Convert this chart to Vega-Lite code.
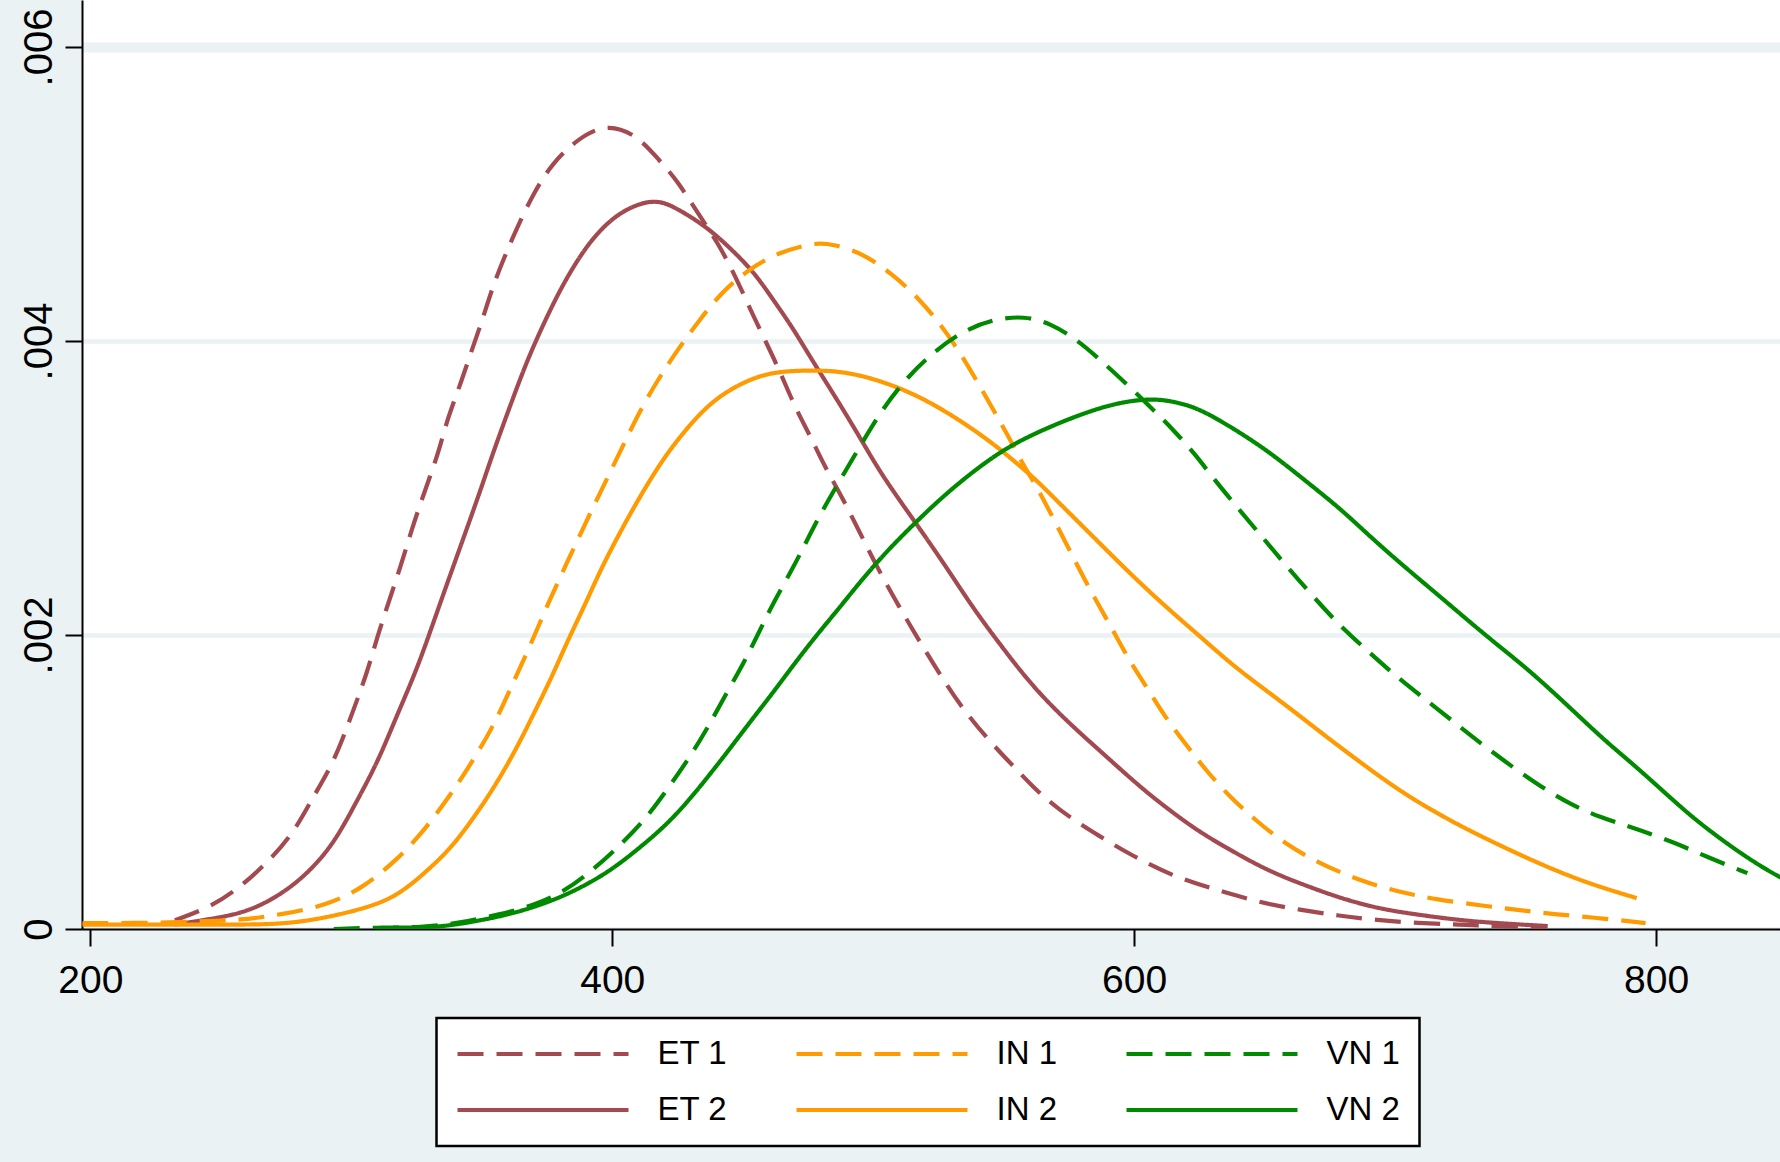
{
"$schema": "https://vega.github.io/schema/vega-lite/v6.json",
"width": 1698, "height": 929,
"autosize": {"type": "none"},
"padding": {"left": 82, "top": 0, "right": 0, "bottom": 233},
"background": "#EAF2F3",
"view": {"fill": "white", "stroke": null},
"config": {"font": "Liberation Sans", "legend": {"strokeWidth": 2.5}},
"data": {"values": [
{"s":"ET 1","x":232.4,"y":0.00006},{"s":"ET 1","x":245,"y":0.00014},{"s":"ET 1","x":256.5,"y":0.00027},{"s":"ET 1","x":267.8,"y":0.00045},{"s":"ET 1","x":277.8,"y":0.00065},{"s":"ET 1","x":284.7,"y":0.00088},{"s":"ET 1","x":293.3,"y":0.00113},{"s":"ET 1","x":300.4,"y":0.00147},{"s":"ET 1","x":306,"y":0.00174},{"s":"ET 1","x":310,"y":0.00199},{"s":"ET 1","x":314.6,"y":0.00224},{"s":"ET 1","x":318.8,"y":0.00246},{"s":"ET 1","x":323,"y":0.00271},{"s":"ET 1","x":327,"y":0.00292},{"s":"ET 1","x":330,"y":0.00307},{"s":"ET 1","x":333.7,"y":0.00326},{"s":"ET 1","x":337,"y":0.00348},{"s":"ET 1","x":341.5,"y":0.00369},{"s":"ET 1","x":345.8,"y":0.00392},{"s":"ET 1","x":350,"y":0.00413},{"s":"ET 1","x":354,"y":0.00436},{"s":"ET 1","x":358.6,"y":0.00457},{"s":"ET 1","x":364,"y":0.00479},{"s":"ET 1","x":370,"y":0.00501},{"s":"ET 1","x":377,"y":0.00521},{"s":"ET 1","x":387,"y":0.00538},{"s":"ET 1","x":398,"y":0.00548},{"s":"ET 1","x":409.6,"y":0.0054},{"s":"ET 1","x":418,"y":0.00523},{"s":"ET 1","x":425,"y":0.00509},{"s":"ET 1","x":432,"y":0.00489},{"s":"ET 1","x":440.5,"y":0.00467},{"s":"ET 1","x":447.5,"y":0.00443},{"s":"ET 1","x":453,"y":0.00421},{"s":"ET 1","x":459,"y":0.00399},{"s":"ET 1","x":464.6,"y":0.00378},{"s":"ET 1","x":470,"y":0.00355},{"s":"ET 1","x":476,"y":0.00335},{"s":"ET 1","x":481.6,"y":0.00314},{"s":"ET 1","x":486.5,"y":0.00299},{"s":"ET 1","x":494,"y":0.00273},{"s":"ET 1","x":501.5,"y":0.00246},{"s":"ET 1","x":510,"y":0.00219},{"s":"ET 1","x":518,"y":0.00195},{"s":"ET 1","x":527,"y":0.00169},{"s":"ET 1","x":535.5,"y":0.00147},{"s":"ET 1","x":544,"y":0.00129},{"s":"ET 1","x":552.5,"y":0.00113},{"s":"ET 1","x":561,"y":0.00097},{"s":"ET 1","x":571,"y":0.00081},{"s":"ET 1","x":585,"y":0.00065},{"s":"ET 1","x":599,"y":0.0005},{"s":"ET 1","x":616,"y":0.00035},{"s":"ET 1","x":631,"y":0.00027},{"s":"ET 1","x":648,"y":0.00018},{"s":"ET 1","x":663.6,"y":0.00013},{"s":"ET 1","x":678.5,"y":0.00009},{"s":"ET 1","x":693,"y":0.00006},{"s":"ET 1","x":709,"y":0.00004},{"s":"ET 1","x":724.5,"y":0.00003},{"s":"ET 1","x":738.7,"y":0.00002},{"s":"ET 1","x":758,"y":0.00001},
{"s":"ET 2","x":232.4,"y":0.00003},{"s":"ET 2","x":250.8,"y":0.00008},{"s":"ET 2","x":262,"y":0.00013},{"s":"ET 2","x":273.5,"y":0.00024},{"s":"ET 2","x":283.4,"y":0.00038},{"s":"ET 2","x":293.3,"y":0.00058},{"s":"ET 2","x":301.8,"y":0.00086},{"s":"ET 2","x":310,"y":0.00113},{"s":"ET 2","x":317.4,"y":0.00145},{"s":"ET 2","x":324.5,"y":0.00174},{"s":"ET 2","x":330,"y":0.00201},{"s":"ET 2","x":335.9,"y":0.00231},{"s":"ET 2","x":343,"y":0.00266},{"s":"ET 2","x":350,"y":0.00301},{"s":"ET 2","x":354.3,"y":0.00324},{"s":"ET 2","x":361.3,"y":0.00358},{"s":"ET 2","x":367,"y":0.00385},{"s":"ET 2","x":372.7,"y":0.00408},{"s":"ET 2","x":379.7,"y":0.00434},{"s":"ET 2","x":386.9,"y":0.00456},{"s":"ET 2","x":393.9,"y":0.00473},{"s":"ET 2","x":402.3,"y":0.00487},{"s":"ET 2","x":412.3,"y":0.00495},{"s":"ET 2","x":419,"y":0.00495},{"s":"ET 2","x":425,"y":0.0049},{"s":"ET 2","x":436,"y":0.00478},{"s":"ET 2","x":446,"y":0.00462},{"s":"ET 2","x":454.7,"y":0.00446},{"s":"ET 2","x":461.7,"y":0.00428},{"s":"ET 2","x":468.8,"y":0.0041},{"s":"ET 2","x":475.9,"y":0.00389},{"s":"ET 2","x":483,"y":0.00369},{"s":"ET 2","x":490,"y":0.00349},{"s":"ET 2","x":497,"y":0.00328},{"s":"ET 2","x":504,"y":0.00307},{"s":"ET 2","x":515.6,"y":0.00278},{"s":"ET 2","x":527,"y":0.00249},{"s":"ET 2","x":538,"y":0.00219},{"s":"ET 2","x":548,"y":0.00195},{"s":"ET 2","x":561,"y":0.00165},{"s":"ET 2","x":575,"y":0.0014},{"s":"ET 2","x":587.7,"y":0.0012},{"s":"ET 2","x":602,"y":0.00097},{"s":"ET 2","x":613.4,"y":0.00081},{"s":"ET 2","x":625,"y":0.00066},{"s":"ET 2","x":636.6,"y":0.00054},{"s":"ET 2","x":650.8,"y":0.0004},{"s":"ET 2","x":665,"y":0.0003},{"s":"ET 2","x":679,"y":0.00021},{"s":"ET 2","x":693.3,"y":0.00014},{"s":"ET 2","x":707.5,"y":0.0001},{"s":"ET 2","x":724.5,"y":0.00006},{"s":"ET 2","x":738.7,"y":0.00004},{"s":"ET 2","x":758.5,"y":0.00002},
{"s":"IN 1","x":197,"y":0.00004},{"s":"IN 1","x":220,"y":0.00004},{"s":"IN 1","x":240,"y":0.00005},{"s":"IN 1","x":257.8,"y":0.00006},{"s":"IN 1","x":273.5,"y":0.0001},{"s":"IN 1","x":290.5,"y":0.00016},{"s":"IN 1","x":304.6,"y":0.00028},{"s":"IN 1","x":317.4,"y":0.00047},{"s":"IN 1","x":327,"y":0.00065},{"s":"IN 1","x":335.9,"y":0.00086},{"s":"IN 1","x":344.3,"y":0.00108},{"s":"IN 1","x":354.3,"y":0.00137},{"s":"IN 1","x":361.3,"y":0.00165},{"s":"IN 1","x":368.4,"y":0.00192},{"s":"IN 1","x":375.5,"y":0.00222},{"s":"IN 1","x":382.6,"y":0.00249},{"s":"IN 1","x":389.7,"y":0.00276},{"s":"IN 1","x":396.8,"y":0.00302},{"s":"IN 1","x":405,"y":0.00332},{"s":"IN 1","x":411,"y":0.00354},{"s":"IN 1","x":418,"y":0.00375},{"s":"IN 1","x":425,"y":0.00394},{"s":"IN 1","x":433.3,"y":0.00414},{"s":"IN 1","x":441.8,"y":0.00433},{"s":"IN 1","x":451.7,"y":0.00448},{"s":"IN 1","x":463,"y":0.0046},{"s":"IN 1","x":477.4,"y":0.00467},{"s":"IN 1","x":484.3,"y":0.00466},{"s":"IN 1","x":495.8,"y":0.0046},{"s":"IN 1","x":507,"y":0.00446},{"s":"IN 1","x":517,"y":0.0043},{"s":"IN 1","x":525.5,"y":0.00412},{"s":"IN 1","x":532.6,"y":0.00394},{"s":"IN 1","x":539.7,"y":0.00373},{"s":"IN 1","x":546.7,"y":0.00351},{"s":"IN 1","x":552.5,"y":0.00333},{"s":"IN 1","x":558,"y":0.00314},{"s":"IN 1","x":562.4,"y":0.00302},{"s":"IN 1","x":569.4,"y":0.00278},{"s":"IN 1","x":576.6,"y":0.00253},{"s":"IN 1","x":583.6,"y":0.00229},{"s":"IN 1","x":592,"y":0.00203},{"s":"IN 1","x":597.7,"y":0.00184},{"s":"IN 1","x":605,"y":0.00164},{"s":"IN 1","x":611.9,"y":0.00144},{"s":"IN 1","x":620.5,"y":0.00124},{"s":"IN 1","x":627.5,"y":0.00108},{"s":"IN 1","x":636.6,"y":0.0009},{"s":"IN 1","x":646.5,"y":0.00074},{"s":"IN 1","x":657.8,"y":0.00058},{"s":"IN 1","x":670.5,"y":0.00045},{"s":"IN 1","x":686.2,"y":0.00033},{"s":"IN 1","x":701.8,"y":0.00025},{"s":"IN 1","x":716,"y":0.0002},{"s":"IN 1","x":733,"y":0.00016},{"s":"IN 1","x":747,"y":0.00013},{"s":"IN 1","x":761,"y":0.0001},{"s":"IN 1","x":775.5,"y":0.00008},{"s":"IN 1","x":796,"y":0.00004},
{"s":"IN 2","x":197,"y":0.00003},{"s":"IN 2","x":225,"y":0.00003},{"s":"IN 2","x":251,"y":0.00003},{"s":"IN 2","x":268,"y":0.00003},{"s":"IN 2","x":282,"y":0.00005},{"s":"IN 2","x":296,"y":0.0001},{"s":"IN 2","x":308.8,"y":0.00016},{"s":"IN 2","x":318.8,"y":0.00024},{"s":"IN 2","x":330,"y":0.00041},{"s":"IN 2","x":338.7,"y":0.00056},{"s":"IN 2","x":347,"y":0.00076},{"s":"IN 2","x":354.3,"y":0.00095},{"s":"IN 2","x":362.8,"y":0.00121},{"s":"IN 2","x":369.8,"y":0.00146},{"s":"IN 2","x":377,"y":0.00172},{"s":"IN 2","x":382.6,"y":0.00195},{"s":"IN 2","x":389.7,"y":0.00221},{"s":"IN 2","x":395.4,"y":0.00244},{"s":"IN 2","x":402.4,"y":0.00268},{"s":"IN 2","x":409.6,"y":0.00291},{"s":"IN 2","x":414,"y":0.00304},{"s":"IN 2","x":420.7,"y":0.00323},{"s":"IN 2","x":430.6,"y":0.00345},{"s":"IN 2","x":439,"y":0.0036},{"s":"IN 2","x":449,"y":0.00371},{"s":"IN 2","x":459,"y":0.00378},{"s":"IN 2","x":470,"y":0.0038},{"s":"IN 2","x":484.4,"y":0.0038},{"s":"IN 2","x":494.3,"y":0.00377},{"s":"IN 2","x":504.2,"y":0.00372},{"s":"IN 2","x":515.6,"y":0.00364},{"s":"IN 2","x":527,"y":0.00353},{"s":"IN 2","x":538.3,"y":0.0034},{"s":"IN 2","x":548.3,"y":0.00327},{"s":"IN 2","x":559.6,"y":0.0031},{"s":"IN 2","x":565,"y":0.00301},{"s":"IN 2","x":572.3,"y":0.00288},{"s":"IN 2","x":586.5,"y":0.00263},{"s":"IN 2","x":600.6,"y":0.00238},{"s":"IN 2","x":614.8,"y":0.00215},{"s":"IN 2","x":625.3,"y":0.00199},{"s":"IN 2","x":638,"y":0.00179},{"s":"IN 2","x":650.8,"y":0.00162},{"s":"IN 2","x":662,"y":0.00147},{"s":"IN 2","x":673.5,"y":0.00131},{"s":"IN 2","x":686.2,"y":0.00114},{"s":"IN 2","x":703.2,"y":0.00092},{"s":"IN 2","x":721.7,"y":0.00073},{"s":"IN 2","x":738.7,"y":0.00058},{"s":"IN 2","x":757,"y":0.00043},{"s":"IN 2","x":774,"y":0.00031},{"s":"IN 2","x":792.6,"y":0.00021},
{"s":"VN 1","x":293.3,"y":0.0},{"s":"VN 1","x":310,"y":0.00001},{"s":"VN 1","x":327,"y":0.00001},{"s":"VN 1","x":341.4,"y":0.00004},{"s":"VN 1","x":357,"y":0.0001},{"s":"VN 1","x":369.9,"y":0.00016},{"s":"VN 1","x":381.2,"y":0.00025},{"s":"VN 1","x":392.5,"y":0.0004},{"s":"VN 1","x":402.5,"y":0.00056},{"s":"VN 1","x":412.4,"y":0.00074},{"s":"VN 1","x":420.7,"y":0.00094},{"s":"VN 1","x":429,"y":0.00115},{"s":"VN 1","x":436,"y":0.00135},{"s":"VN 1","x":443,"y":0.00158},{"s":"VN 1","x":450.4,"y":0.00181},{"s":"VN 1","x":456,"y":0.00201},{"s":"VN 1","x":461.7,"y":0.00222},{"s":"VN 1","x":468.8,"y":0.00244},{"s":"VN 1","x":474.5,"y":0.00264},{"s":"VN 1","x":480,"y":0.00283},{"s":"VN 1","x":486.5,"y":0.00303},{"s":"VN 1","x":495.8,"y":0.00331},{"s":"VN 1","x":502.9,"y":0.00352},{"s":"VN 1","x":512.7,"y":0.00375},{"s":"VN 1","x":524,"y":0.00394},{"s":"VN 1","x":535.5,"y":0.00408},{"s":"VN 1","x":546.7,"y":0.00415},{"s":"VN 1","x":558,"y":0.00417},{"s":"VN 1","x":568,"y":0.00412},{"s":"VN 1","x":578,"y":0.00401},{"s":"VN 1","x":586.5,"y":0.00388},{"s":"VN 1","x":596.4,"y":0.00372},{"s":"VN 1","x":606.3,"y":0.00355},{"s":"VN 1","x":614.8,"y":0.0034},{"s":"VN 1","x":623.4,"y":0.00323},{"s":"VN 1","x":631,"y":0.00305},{"s":"VN 1","x":640.9,"y":0.00284},{"s":"VN 1","x":650.8,"y":0.00263},{"s":"VN 1","x":659.3,"y":0.00245},{"s":"VN 1","x":669.2,"y":0.00225},{"s":"VN 1","x":679,"y":0.00206},{"s":"VN 1","x":689,"y":0.0019},{"s":"VN 1","x":699,"y":0.00174},{"s":"VN 1","x":710.3,"y":0.00158},{"s":"VN 1","x":721.7,"y":0.00142},{"s":"VN 1","x":733,"y":0.00126},{"s":"VN 1","x":744.4,"y":0.00111},{"s":"VN 1","x":755.7,"y":0.00097},{"s":"VN 1","x":767,"y":0.00085},{"s":"VN 1","x":778.4,"y":0.00076},{"s":"VN 1","x":791,"y":0.00069},{"s":"VN 1","x":805.4,"y":0.0006},{"s":"VN 1","x":819.6,"y":0.00049},{"s":"VN 1","x":835,"y":0.00038},
{"s":"VN 2","x":316,"y":0.00001},{"s":"VN 2","x":333,"y":0.00001},{"s":"VN 2","x":347,"y":0.00005},{"s":"VN 2","x":361,"y":0.0001},{"s":"VN 2","x":375.5,"y":0.00018},{"s":"VN 2","x":388,"y":0.00028},{"s":"VN 2","x":399.6,"y":0.0004},{"s":"VN 2","x":409.6,"y":0.00054},{"s":"VN 2","x":419,"y":0.00068},{"s":"VN 2","x":427.7,"y":0.00084},{"s":"VN 2","x":436,"y":0.00102},{"s":"VN 2","x":444.8,"y":0.00122},{"s":"VN 2","x":453.3,"y":0.00142},{"s":"VN 2","x":461.7,"y":0.00161},{"s":"VN 2","x":470,"y":0.00181},{"s":"VN 2","x":478.8,"y":0.00201},{"s":"VN 2","x":487.3,"y":0.00219},{"s":"VN 2","x":495.8,"y":0.00238},{"s":"VN 2","x":505.7,"y":0.00258},{"s":"VN 2","x":517,"y":0.00278},{"s":"VN 2","x":528.4,"y":0.00297},{"s":"VN 2","x":541,"y":0.00315},{"s":"VN 2","x":552.5,"y":0.00329},{"s":"VN 2","x":566.7,"y":0.00341},{"s":"VN 2","x":580.8,"y":0.00351},{"s":"VN 2","x":593.5,"y":0.00358},{"s":"VN 2","x":606.3,"y":0.00361},{"s":"VN 2","x":614.8,"y":0.00359},{"s":"VN 2","x":623.4,"y":0.00355},{"s":"VN 2","x":633,"y":0.00346},{"s":"VN 2","x":646.5,"y":0.00331},{"s":"VN 2","x":656.5,"y":0.00318},{"s":"VN 2","x":666.3,"y":0.00304},{"s":"VN 2","x":679,"y":0.00286},{"s":"VN 2","x":690.4,"y":0.00267},{"s":"VN 2","x":703.2,"y":0.00247},{"s":"VN 2","x":716,"y":0.00228},{"s":"VN 2","x":727.2,"y":0.00211},{"s":"VN 2","x":738.7,"y":0.00194},{"s":"VN 2","x":750,"y":0.00178},{"s":"VN 2","x":761.3,"y":0.0016},{"s":"VN 2","x":772.7,"y":0.00141},{"s":"VN 2","x":781.2,"y":0.00127},{"s":"VN 2","x":792.6,"y":0.0011},{"s":"VN 2","x":803.8,"y":0.00092},{"s":"VN 2","x":815.2,"y":0.00074},{"s":"VN 2","x":828,"y":0.00057},{"s":"VN 2","x":838,"y":0.00045},{"s":"VN 2","x":847.5,"y":0.00035},{"s":"VN 2","x":855,"y":0.00029}
]},
"mark": {"type": "line", "strokeWidth": 4.2, "interpolate": "basis", "clip": true},
"encoding": {
 "x": {"field": "x", "type": "quantitative",
  "scale": {"domain": [196.8, 847.5], "nice": false, "zero": false},
  "axis": {"values": [200, 400, 600, 800], "title": null, "grid": false, "domainColor": "black", "domainWidth": 2, "tickColor": "black", "tickWidth": 2, "tickSize": 17, "labelFontSize": 39, "labelColor": "black", "labelPadding": 15, "labelFlush": false, "labelFont": "Liberation Sans"}},
 "y": {"field": "y", "type": "quantitative",
  "scale": {"domain": [0, 0.00632], "nice": false},
  "axis": {"values": [0, 0.002, 0.004, 0.006], "title": null, "grid": true, "gridColor": "#EAF2F3",
   "gridWidth": {"condition": {"test": "datum.value > 0.0059", "value": 10}, "value": 4.5},
   "domainColor": "black", "domainWidth": 2, "tickColor": "black", "tickWidth": 2, "tickSize": 17,
   "labelFontSize": 40, "labelColor": "black", "labelAngle": -90, "labelAlign": "center", "labelBaseline": "alphabetic", "labelPadding": 14, "labelFont": "Liberation Sans",
   "labelExpr": "datum.value === 0 ? '0' : substring(format(datum.value, '.3f'), 1)"}},
 "color": {"field": "s", "type": "nominal",
  "scale": {"domain": ["ET 1", "IN 1", "VN 1", "ET 2", "IN 2", "VN 2"], "range": ["#A34A50", "#FF9A00", "#008A00", "#A34A50", "#FF9A00", "#008A00"]},
  "legend": {"orient": "none", "legendX": 354.5, "legendY": 1018, "columns": 3, "direction": "horizontal", "title": null, "symbolType": "stroke", "symbolSize": 29241, "symbolStrokeWidth": 4, "clipHeight": 34, "labelFontSize": 33, "labelFont": "Liberation Sans Narrow, Liberation Sans", "labelColor": "black", "labelOffset": 27, "columnPadding": 67, "rowPadding": 22, "padding": 19, "strokeColor": "black", "fillColor": "white"}},
 "strokeDash": {"field": "s", "type": "nominal",
  "scale": {"domain": ["ET 1", "IN 1", "VN 1", "ET 2", "IN 2", "VN 2"], "range": [[26, 13], [26, 13], [26, 13], [1, 0], [1, 0], [1, 0]]},
  "legend": {"orient": "none", "legendX": 354.5, "legendY": 1018, "columns": 3, "direction": "horizontal", "title": null, "symbolType": "stroke", "symbolSize": 29241, "symbolStrokeWidth": 4, "clipHeight": 34, "labelFontSize": 33, "labelFont": "Liberation Sans Narrow, Liberation Sans", "labelColor": "black", "labelOffset": 27, "columnPadding": 67, "rowPadding": 22, "padding": 19, "strokeColor": "black", "fillColor": "white"}}
}
}
